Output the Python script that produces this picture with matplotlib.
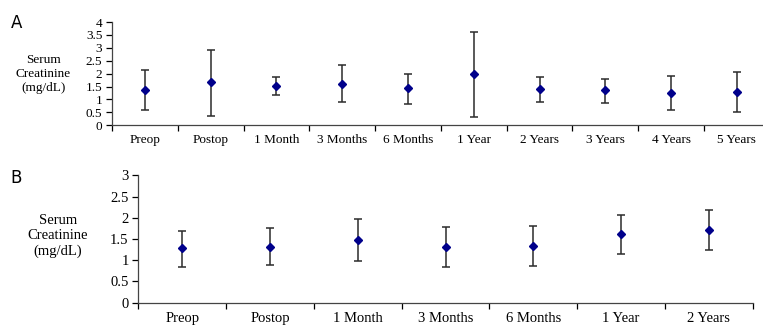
import numpy as np
import matplotlib.pyplot as plt

plt.rcParams['font.family'] = ['Liberation Serif', 'DejaVu Serif']

# Panel A: long-term follow-up
cats_a = ['Preop', 'Postop', '1 Month', '3 Months', '6 Months', '1 Year',
          '2 Years', '3 Years', '4 Years', '5 Years']
mean_a = [1.38, 1.66, 1.51, 1.60, 1.43, 1.97, 1.41, 1.36, 1.26, 1.29]
low_a = [0.58, 0.36, 1.17, 0.89, 0.84, 0.33, 0.89, 0.86, 0.59, 0.50]
high_a = [2.13, 2.93, 1.88, 2.32, 1.99, 3.60, 1.88, 1.78, 1.92, 2.05]

# Panel B: two-year follow-up
cats_b = ['Preop', 'Postop', '1 Month', '3 Months', '6 Months', '1 Year', '2 Years']
mean_b = [1.28, 1.32, 1.48, 1.31, 1.33, 1.61, 1.71]
low_b = [0.85, 0.88, 0.99, 0.85, 0.86, 1.14, 1.25]
high_b = [1.69, 1.77, 1.96, 1.79, 1.81, 2.07, 2.19]


def draw_panel(ax, cats, mean, low, high, ymax, fs, yfs, pad):
    x = np.arange(len(cats))
    mean = np.array(mean)
    err = [mean - np.array(low), np.array(high) - mean]
    ax.errorbar(x, mean, yerr=err, fmt='none', ecolor='#2b2b2b',
                elinewidth=1.1, capsize=3.2, capthick=1.1)
    ax.plot(x, mean, 'D', color='#00008b', markersize=4.2, zorder=3)
    ax.set_xlim(-0.5, len(cats) - 0.5)
    ax.set_ylim(0, ymax)
    ax.set_yticks(np.arange(0, ymax + 0.01, 0.5))
    ax.set_yticklabels(['%g' % v for v in np.arange(0, ymax + 0.01, 0.5)],
                       fontsize=yfs)
    # boundary ticks on x, labels sit between them
    ax.set_xticks(np.arange(len(cats) + 1) - 0.5)
    ax.set_xticklabels([])
    ax.set_xticks(x, minor=True)
    ax.set_xticklabels(cats, minor=True, fontsize=fs)
    ax.tick_params(axis='x', which='minor', length=0, pad=pad)
    ax.tick_params(axis='x', which='major', length=4, width=0.9)
    ax.tick_params(axis='y', length=4, width=0.9, pad=3)
    for s in ['top', 'right']:
        ax.spines[s].set_visible(False)
    for s in ['left', 'bottom']:
        ax.spines[s].set_color('#444444')
        ax.spines[s].set_linewidth(0.9)


fig = plt.figure(figsize=(7.63, 3.25), dpi=100)

ax_a = fig.add_axes([0.1468, 0.6145, 0.862, 0.3178])
draw_panel(ax_a, cats_a, mean_a, low_a, high_a, 4, 9.5, 9.5, 6)

ax_b = fig.add_axes([0.1813, 0.0686, 0.8052, 0.3920])
draw_panel(ax_b, cats_b, mean_b, low_b, high_b, 3, 10.5, 10.5, 6.5)

fig.text(0.014, 0.930, 'A', fontsize=12, family='DejaVu Sans', va='center')
fig.text(0.014, 0.452, 'B', fontsize=12, family='DejaVu Sans', va='center')
fig.text(0.057, 0.772, 'Serum\nCreatinine\n(mg/dL)', fontsize=9.5,
         ha='center', va='center', linespacing=1.25)
fig.text(0.076, 0.274, 'Serum\nCreatinine\n(mg/dL)', fontsize=10.5,
         ha='center', va='center', linespacing=1.25)

fig.savefig('out.png', dpi=100)
